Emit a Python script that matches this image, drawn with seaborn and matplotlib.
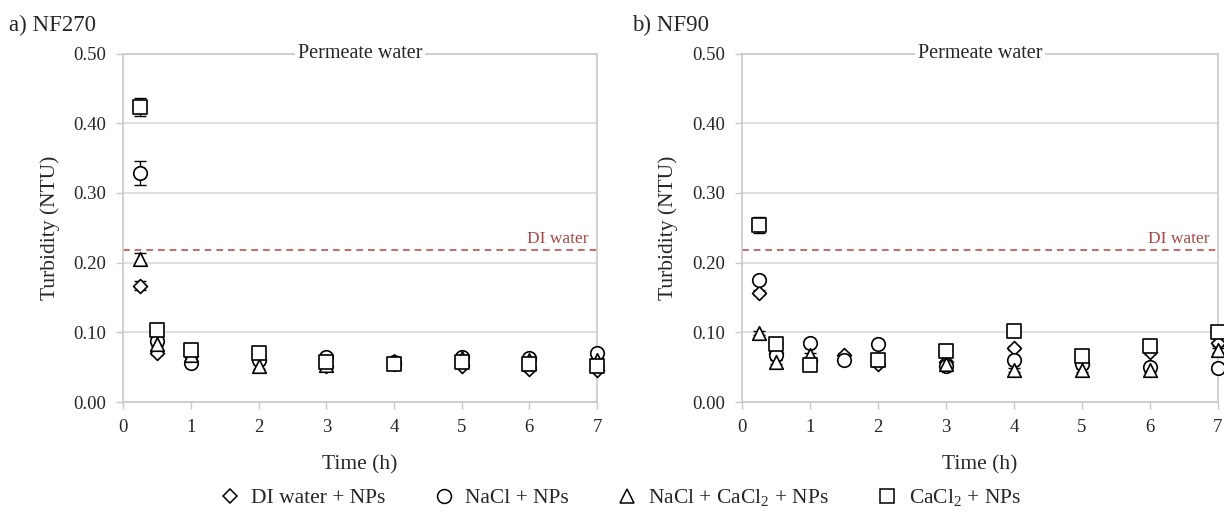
import numpy as np
import pandas as pd
import matplotlib
matplotlib.use("Agg")
import matplotlib.pyplot as plt
from matplotlib.lines import Line2D
import seaborn as sns

# ---- data -------------------------------------------------------------
series_labels = ["DI water + NPs", "NaCl + NPs",
                 r"NaCl + CaCl$\mathregular{_2}$ + NPs", r"CaCl$\mathregular{_2}$ + NPs"]
series_markers = ["D", "o", "^", "s"]

time_nf270 = [0.25, 0.5, 1, 2, 3, 4, 5, 6, 7]
di_nf270 = [0.167, 0.070, 0.066, 0.060, 0.052, 0.055, 0.052, 0.047, 0.046]
nacl_nf270 = [0.329, 0.088, 0.056, 0.061, 0.065, 0.057, 0.064, 0.063, 0.070]
mix_nf270 = [0.205, 0.083, 0.068, 0.051, 0.053, 0.059, 0.063, 0.060, 0.060]
cacl2_nf270 = [0.423, 0.104, 0.075, 0.070, 0.058, 0.055, 0.058, 0.054, 0.051]
err_di_nf270 = [0.006, 0.003, 0.003, 0.003, 0.003, 0.003, 0.003, 0.003, 0.003]
err_nacl_nf270 = [0.017, 0.003, 0.003, 0.003, 0.003, 0.003, 0.003, 0.003, 0.003]
err_mix_nf270 = [0.009, 0.003, 0.003, 0.003, 0.003, 0.003, 0.003, 0.003, 0.003]
err_cacl2_nf270 = [0.013, 0.003, 0.003, 0.003, 0.003, 0.003, 0.003, 0.003, 0.003]

time_nf90 = [0.25, 0.5, 1, 1.5, 2, 3, 4, 5, 6, 7]
di_nf90 = [0.157, 0.070, 0.060, 0.067, 0.054, 0.057, 0.078, 0.055, 0.072, 0.084]
nacl_nf90 = [0.175, 0.068, 0.084, 0.060, 0.083, 0.052, 0.060, 0.055, 0.050, 0.049]
mix_nf90 = [0.099, 0.058, 0.067, np.nan, 0.062, 0.055, 0.046, 0.046, 0.046, 0.074]
cacl2_nf90 = [0.254, 0.083, 0.053, np.nan, 0.061, 0.073, 0.102, 0.066, 0.081, 0.100]
err_di_nf90 = [0.004, 0.003, 0.003, 0.003, 0.003, 0.003, 0.003, 0.003, 0.003, 0.003]
err_nacl_nf90 = [0.004, 0.003, 0.003, 0.003, 0.003, 0.003, 0.003, 0.003, 0.003, 0.003]
err_mix_nf90 = [0.003, 0.003, 0.003, 0.0, 0.003, 0.003, 0.003, 0.003, 0.003, 0.003]
err_cacl2_nf90 = [0.012, 0.003, 0.003, 0.0, 0.003, 0.003, 0.003, 0.003, 0.003, 0.003]

di_water_level = 0.218

panels = [
    ("a) NF270", time_nf270,
     [di_nf270, nacl_nf270, mix_nf270, cacl2_nf270],
     [err_di_nf270, err_nacl_nf270, err_mix_nf270, err_cacl2_nf270]),
    ("b) NF90", time_nf90,
     [di_nf90, nacl_nf90, mix_nf90, cacl2_nf90],
     [err_di_nf90, err_nacl_nf90, err_mix_nf90, err_cacl2_nf90]),
]

# ---- style ------------------------------------------------------------
sns.set_theme(style="white")
plt.rcParams["font.family"] = ["Liberation Serif", "DejaVu Serif"]
plt.rcParams["mathtext.fontset"] = "custom"
plt.rcParams["mathtext.rm"] = "Liberation Serif"

grid_col = "#d9d9d9"
frame_col = "#c8c8c8"
ref_col = "#c0504d"
marker_sizes = {"D": 50, "o": 95, "^": 95, "s": 90}

fig = plt.figure(figsize=(12.24, 5.12), dpi=100)
axes_rects = [[0.1007, 0.2148, 0.387, 0.6807], [0.606, 0.2148, 0.389, 0.6807]]

for rect, (title, times, values, errors) in zip(axes_rects, panels):
    ax = fig.add_axes(rect)
    ax.set_xlim(0, 7)
    ax.set_ylim(0, 0.5)
    ax.set_xticks(range(0, 8))
    ax.set_yticks(np.arange(0, 0.51, 0.1))
    ax.yaxis.set_major_formatter(matplotlib.ticker.FormatStrFormatter("%.2f"))
    ax.grid(axis="y", color=grid_col, lw=1.2, zorder=0)
    ax.grid(axis="x", visible=False)
    for sp in ax.spines.values():
        sp.set_color(frame_col)
        sp.set_linewidth(1.2)
    ax.tick_params(axis="both", which="major", direction="out", length=5,
                   width=1, color=frame_col, labelsize=13.5, pad=7,
                   left=True, bottom=True)

    # reference turbidity of the feed water
    ax.axhline(di_water_level, color=ref_col, lw=1.2, ls=(0, (4, 3)), zorder=1)
    ax.text(0.982, di_water_level + 0.004, "DI water", transform=ax.get_yaxis_transform(),
            ha="right", va="bottom", fontsize=12.5, color="#a94442")

    for vals, errs, mk in zip(values, errors, series_markers):
        ax.errorbar(times, vals, yerr=errs, fmt="none", ecolor="black",
                    elinewidth=1.0, capsize=4, capthick=1.0, zorder=2, clip_on=False)
    for vals, mk in zip(values, series_markers):
        sns.scatterplot(x=times, y=vals, marker=mk, s=marker_sizes[mk],
                        facecolor="white", edgecolor="black", linewidth=1.2,
                        ax=ax, zorder=3, clip_on=False, legend=False)

    ax.text(0.5, 1.0, "Permeate water", transform=ax.transAxes, ha="center",
            va="center", fontsize=14.5,
            bbox=dict(facecolor="white", edgecolor="none", pad=2))
    ax.set_xlabel("Time (h)", fontsize=15.5, labelpad=14)
    ax.set_ylabel("Turbidity (NTU)", fontsize=15.5, labelpad=10)

fig.text(0.007, 0.95, "a) NF270", fontsize=16.5, ha="left", va="center")
fig.text(0.516, 0.95, "b) NF90", fontsize=16.5, ha="left", va="center")

handles = [Line2D([], [], ls="none", marker=mk, markersize=(10 if mk != "D" else 7.5),
                  markerfacecolor="white", markeredgecolor="black", markeredgewidth=1.1)
           for mk in series_markers]
fig.legend(handles, series_labels, loc="center", bbox_to_anchor=(0.5065, 0.028),
           ncol=4, frameon=False, fontsize=15.5, handlelength=1.0,
           handletextpad=0.5, columnspacing=2.2)

fig.savefig("out.png", dpi=100)
